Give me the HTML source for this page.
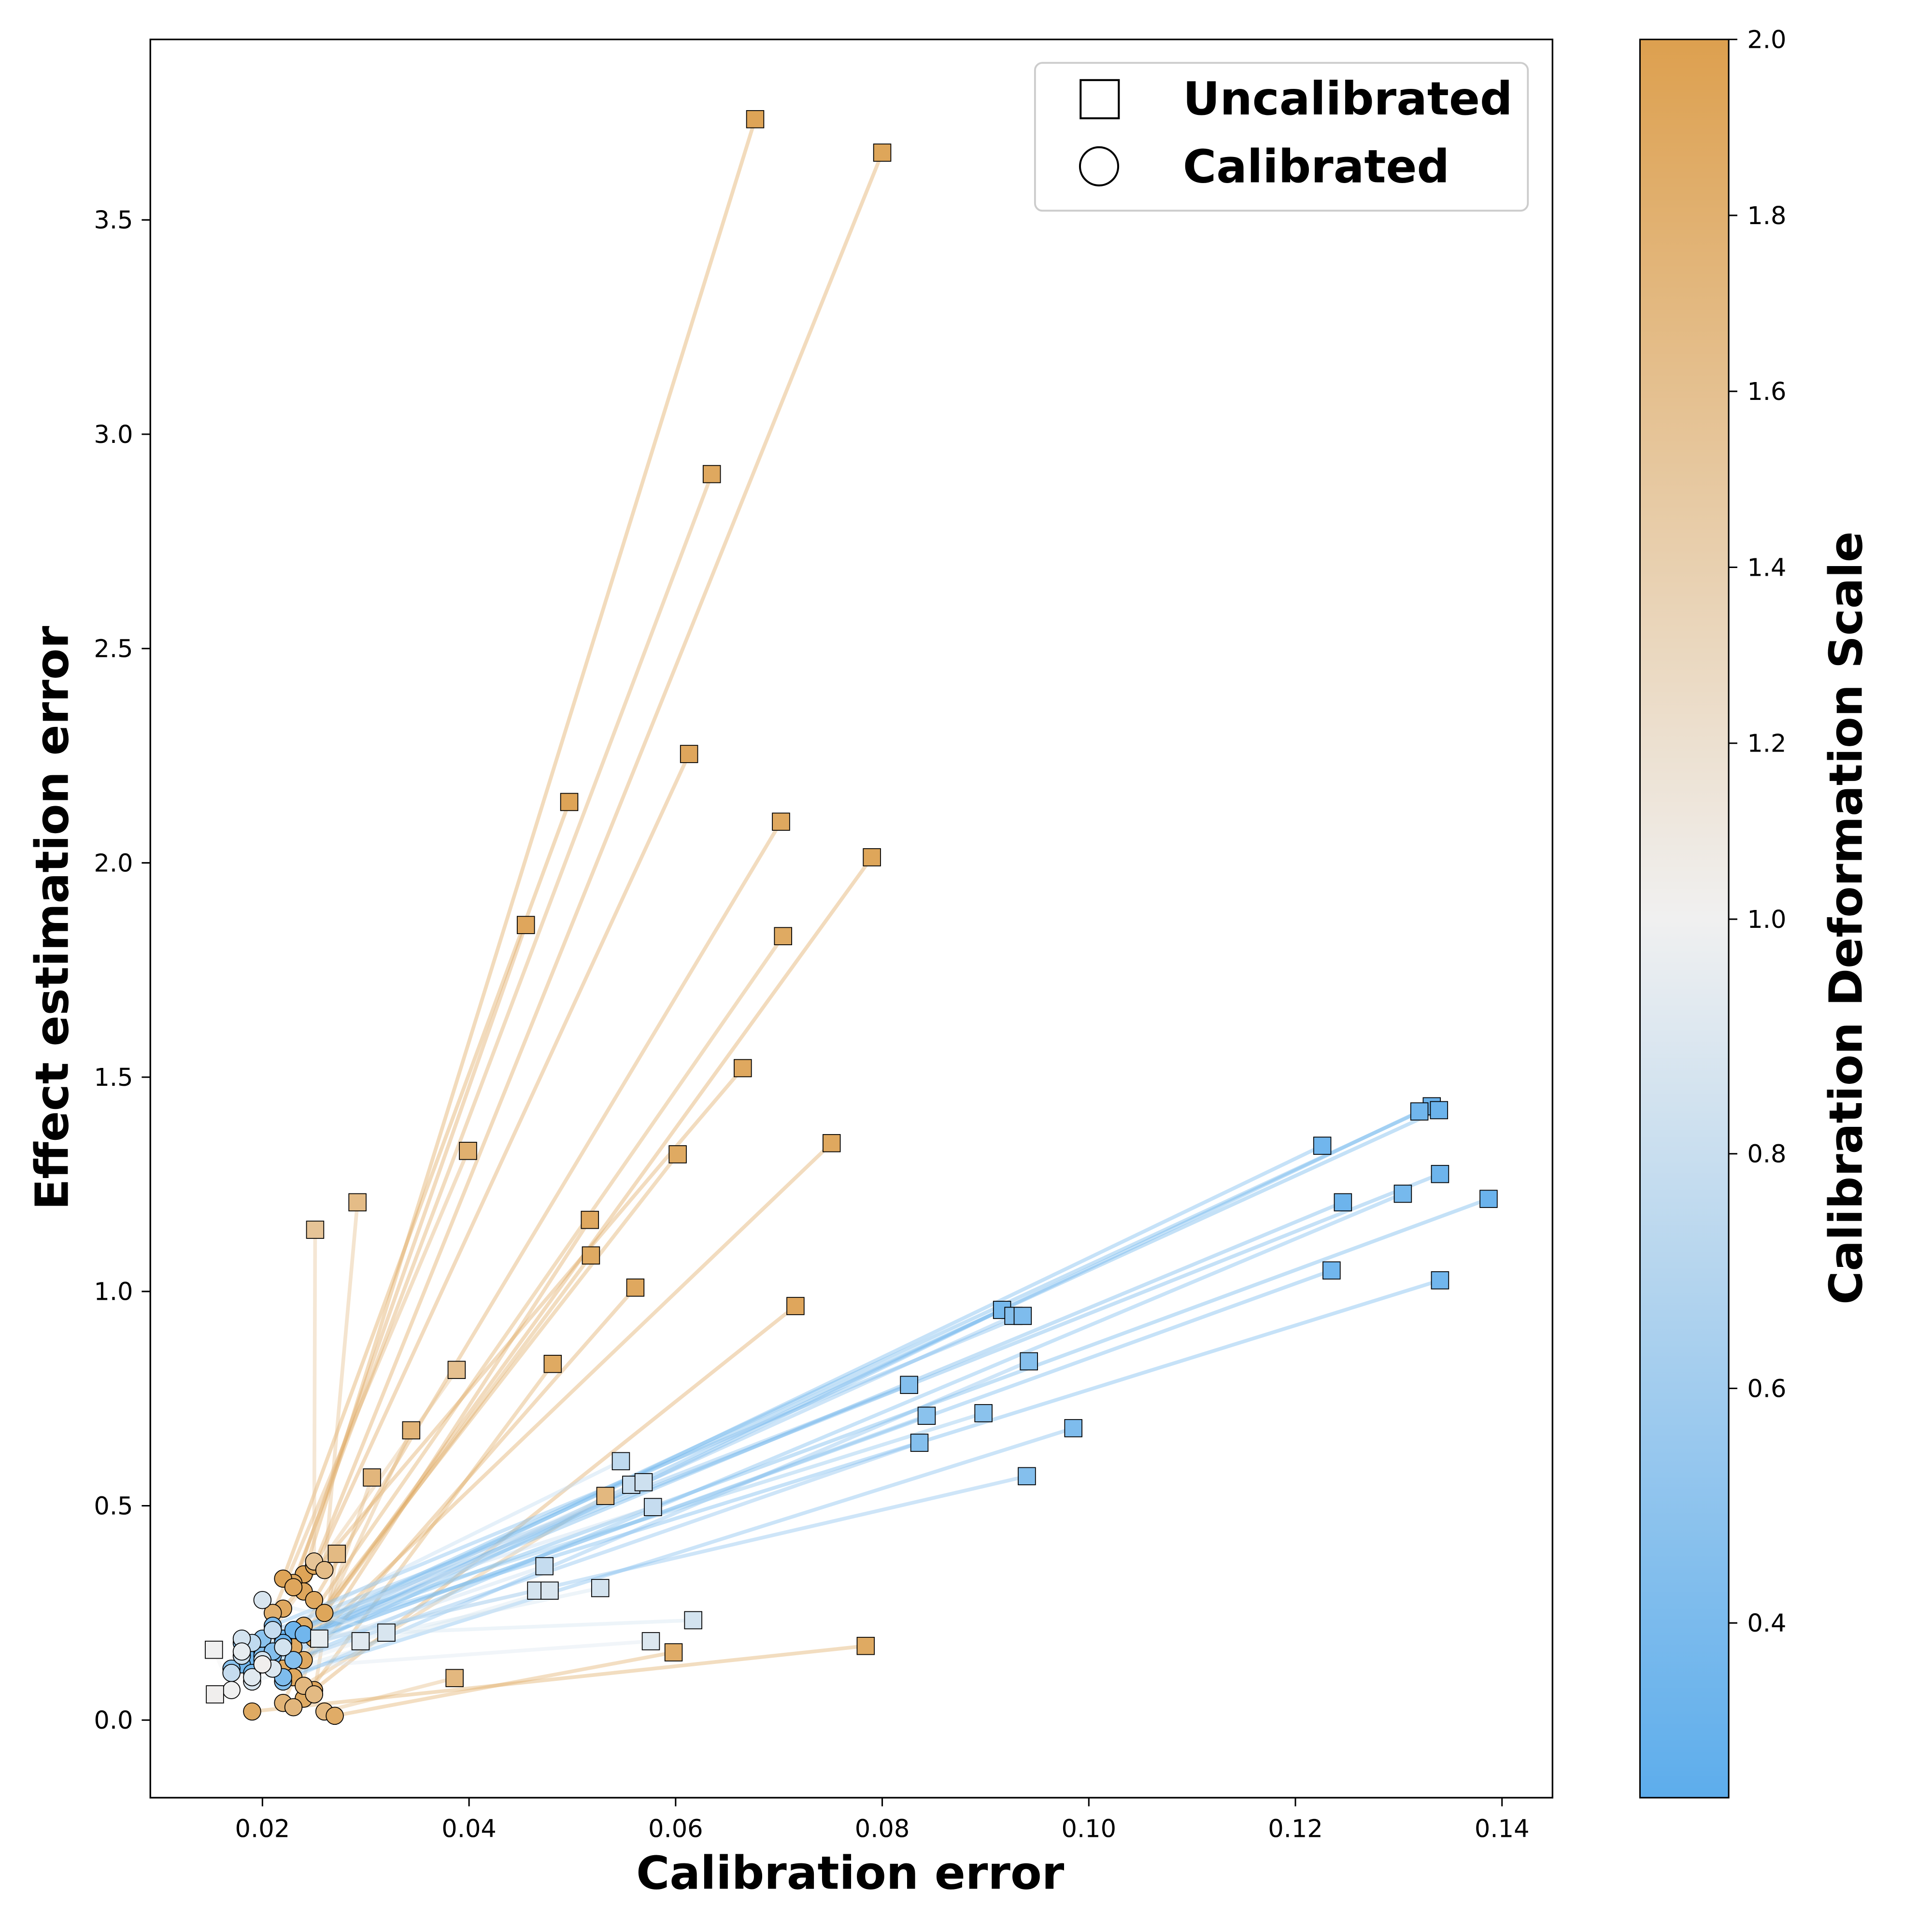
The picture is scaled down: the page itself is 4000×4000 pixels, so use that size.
<!DOCTYPE html>
<html><head><meta charset="utf-8"><style>
html,body{margin:0;padding:0;background:#fff}
svg{display:block}
text{font-family:"DejaVu Sans","Liberation Sans",sans-serif;fill:#000}
</style></head><body>
<svg id="chart" xmlns="http://www.w3.org/2000/svg" width="4000" height="4000" viewBox="0 0 1568 1568">
<defs>
<linearGradient id="cbg" x1="0" y1="0" x2="0" y2="1">
<stop offset="0" stop-color="rgb(221,160,79)"/>
<stop offset="0.5" stop-color="rgb(240,240,240)"/>
<stop offset="1" stop-color="rgb(93,173,236)"/>
</linearGradient>
</defs>
<rect x="0" y="0" width="1568" height="1568" fill="#fff"/>
<g id="lines"></g>
<g id="circles"></g>
<g id="squares"></g>
<rect x="122" y="32" width="1138" height="1427" fill="none" stroke="#000" stroke-width="1.3"/>
<g id="xticks"></g>
<g id="yticks"></g>
<text x="690" y="1533" font-size="37" font-weight="bold" text-anchor="middle">Calibration error</text>
<text transform="translate(55,745) rotate(-90)" font-size="37" font-weight="bold" text-anchor="middle">Effect estimation error</text>
<g>
<rect x="840" y="51" width="400" height="120" rx="6" fill="#fff" stroke="#ccc" stroke-width="1.5"/>
<rect x="877" y="65" width="31" height="31" fill="none" stroke="#000" stroke-width="1.6"/>
<text x="960" y="93" font-size="37" font-weight="bold">Uncalibrated</text>
<circle cx="892" cy="135" r="15.5" fill="none" stroke="#000" stroke-width="1.6"/>
<text x="960" y="148" font-size="37" font-weight="bold">Calibrated</text>
</g>
<rect x="1331" y="32" width="72" height="1427" fill="url(#cbg)" stroke="#000" stroke-width="1.2"/>
<g id="cbticks"></g>
<text transform="translate(1511,745) rotate(-90)" font-size="37" font-weight="bold" text-anchor="middle">Calibration Deformation Scale</text>
</svg>
<script>
const xTicks = [0.02,0.04,0.06,0.08,0.10,0.12,0.14];
const xTickLabels = ["0.02","0.04","0.06","0.08","0.10","0.12","0.14"];
const yTicks = [0,0.5,1.0,1.5,2.0,2.5,3.0,3.5];
const yTickLabels = ["0.0","0.5","1.0","1.5","2.0","2.5","3.0","3.5"];
const cbTicks = [0.4,0.6,0.8,1.0,1.2,1.4,1.6,1.8,2.0];
const cbTickLabels = ["0.4","0.6","0.8","1.0","1.2","1.4","1.6","1.8","2.0"];

const uncalX = [0.0677,0.080,0.0635,0.0613,0.0497,0.0702,0.079,0.0455,0.0704,0.0665,0.0751,0.0399,0.0602,0.0251,0.0292,0.0517,0.0518,0.0561,0.0716,0.0388,0.0481,0.0344,0.0306,0.0532,0.0272,0.0386,0.0598,0.0784,
0.1332,0.132,0.1339,0.1226,0.134,0.1246,0.1304,0.1387,0.1235,0.134,0.0916,0.0927,0.0936,0.0942,0.0826,0.0843,0.0836,0.0898,0.0985,0.094,
0.0547,0.0557,0.0569,0.0578,0.0473,0.0465,0.0478,0.0527,0.0617,0.0576,0.032,0.0295,0.0255,0.0153,0.0154];
const uncalY = [3.735,3.657,2.907,2.254,2.142,2.096,2.013,1.855,1.829,1.521,1.346,1.328,1.320,1.144,1.208,1.167,1.084,1.009,0.966,0.817,0.831,0.676,0.566,0.523,0.388,0.098,0.158,0.173,
1.432,1.420,1.423,1.340,1.274,1.208,1.228,1.216,1.049,1.026,0.957,0.943,0.943,0.837,0.782,0.710,0.647,0.716,0.681,0.569,
0.604,0.549,0.555,0.497,0.359,0.302,0.302,0.308,0.233,0.184,0.204,0.184,0.190,0.164,0.060];
const calX = [0.024,0.025,0.023,0.024,0.022,0.025,0.026,0.023,0.024,0.022,0.025,0.021,0.023,0.025,0.026,0.024,0.022,0.023,0.025,0.021,0.024,0.022,0.023,0.024,0.025,0.026,0.027,0.019,
0.020,0.021,0.022,0.019,0.023,0.020,0.021,0.022,0.018,0.024,0.019,0.020,0.021,0.022,0.018,0.017,0.023,0.020,0.022,0.021,
0.019,0.020,0.018,0.021,0.017,0.022,0.019,0.020,0.018,0.021,0.020,0.019,0.018,0.017,0.020];
const calY = [0.34,0.36,0.32,0.30,0.33,0.28,0.25,0.31,0.22,0.26,0.19,0.25,0.17,0.37,0.35,0.14,0.12,0.10,0.07,0.21,0.05,0.04,0.03,0.08,0.06,0.02,0.01,0.02,
0.17,0.15,0.19,0.14,0.21,0.16,0.12,0.18,0.13,0.20,0.11,0.15,0.22,0.09,0.18,0.12,0.14,0.19,0.10,0.16,
0.18,0.13,0.15,0.21,0.11,0.17,0.09,0.14,0.19,0.12,0.28,0.10,0.16,0.07,0.13];
const scale = [1.95,1.93,1.9,1.92,1.95,1.9,1.93,1.92,1.88,1.9,1.9,1.8,1.88,1.55,1.65,1.9,1.88,1.9,1.92,1.6,1.88,1.75,1.72,1.7,1.68,1.7,1.85,1.88,
0.32,0.35,0.32,0.35,0.33,0.33,0.38,0.32,0.35,0.35,0.38,0.45,0.42,0.45,0.45,0.48,0.45,0.48,0.42,0.45,
0.75,0.8,0.82,0.78,0.78,0.85,0.88,0.85,0.85,0.9,0.88,0.92,0.95,1.0,1.02];

const NS="http://www.w3.org/2000/svg";
const X = v => 213 + (v-0.02)/0.02*167.67;
const Y = v => 1396 - v/0.5*173.93;
const CB = v => v>=1 ? 746 - (v-1)*714 : 746 + (1-v)*952;
function col(s){
  let a,b,t;
  if(s<1){t=Math.max(0,(s-0.25)/0.75);a=[93,173,236];b=[240,240,240];}
  else{t=Math.min(1,s-1);a=[240,240,240];b=[221,160,79];}
  return `rgb(${a.map((c,i)=>Math.round(c+(b[i]-c)*t)).join(',')})`;
}
function mk(tag,attrs,parent){const e=document.createElementNS(NS,tag);for(const k in attrs)e.setAttribute(k,attrs[k]);parent.appendChild(e);return e;}
const gl=document.getElementById('lines'),gc=document.getElementById('circles'),gs=document.getElementById('squares');
for(let i=0;i<uncalX.length;i++){
  const l=mk('line',{x1:X(uncalX[i]),y1:Y(uncalY[i]),x2:X(calX[i]),y2:Y(calY[i]),stroke:col(scale[i]),'stroke-width':3,'stroke-opacity':0.4},gl);
  
  
}
for(let i=0;i<calX.length;i++){
  const c=mk('circle',{cx:X(calX[i]),cy:Y(calY[i]),r:7,fill:col(scale[i]),stroke:'#000','stroke-width':0.7},gc);
  
  
}
for(let i=0;i<uncalX.length;i++){
  const r=mk('rect',{x:X(uncalX[i])-7,y:Y(uncalY[i])-7,width:14,height:14,fill:col(scale[i]),stroke:'#000','stroke-width':0.7},gs);
  
  
}
const gx=document.getElementById('xticks');
xTicks.forEach((v,i)=>{
  mk('line',{x1:X(v),x2:X(v),y1:1459,y2:1466,stroke:'#000','stroke-width':1.2},gx);
  const t=mk('text',{x:X(v),y:1491,'font-size':20,'text-anchor':'middle'},gx);t.textContent=xTickLabels[i];
  
  
});
const gy=document.getElementById('yticks');
yTicks.forEach((v,i)=>{
  mk('line',{x1:115,x2:122,y1:Y(v),y2:Y(v),stroke:'#000','stroke-width':1.2},gy);
  const t=mk('text',{x:108,y:Y(v)+7,'font-size':20,'text-anchor':'end'},gy);t.textContent=yTickLabels[i];
  
  
});
const gcb=document.getElementById('cbticks');
cbTicks.forEach((v,i)=>{
  mk('line',{x1:1403,x2:1410,y1:CB(v),y2:CB(v),stroke:'#000','stroke-width':1.2},gcb);
  const t=mk('text',{x:1418,y:CB(v)+7,'font-size':20},gcb);t.textContent=cbTickLabels[i];
  
  
});
</script>
</body></html>
